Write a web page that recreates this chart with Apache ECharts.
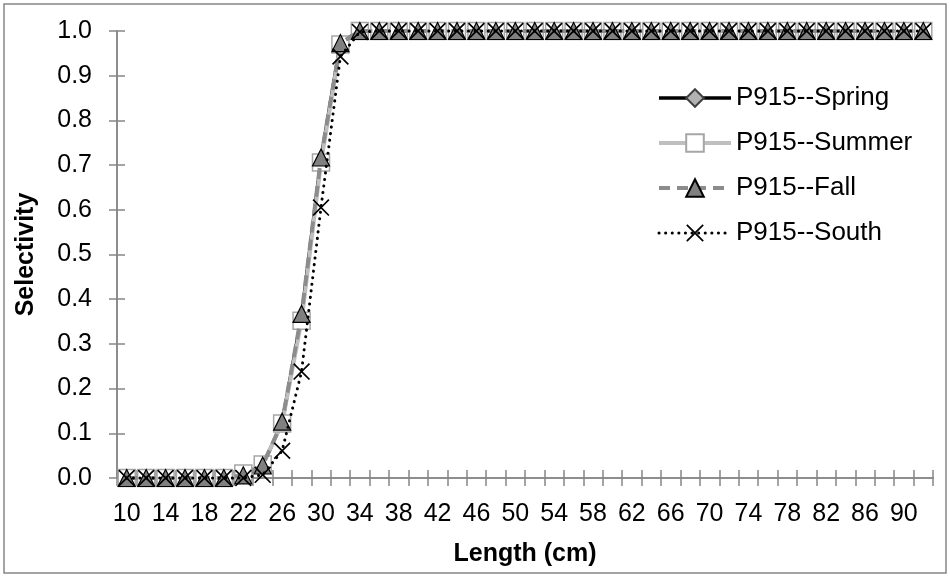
<!DOCTYPE html>
<html>
<head>
<meta charset="utf-8">
<script src="https://cdn.jsdelivr.net/npm/echarts@6/dist/echarts.min.js"></script>
<style>
  html, body { margin: 0; padding: 0; background: #fff; }
  #chart { width: 950px; height: 577px; }
</style>
</head>
<body>
<div id="chart"></div>
<script>
// Length classes (cm)
var lengths = ['10','12','14','16','18','20','22','24','26','28','30','32','34','36','38','40',
  '42','44','46','48','50','52','54','56','58','60','62','64','66','68','70','72','74','76',
  '78','80','82','84','86','88','90','92'];

// Selectivity at length for each season / region
var spring = [0,0,0,0,0,0,0.003,0.028,0.124,0.362,0.714,0.974,
  1,1,1,1,1,1,1,1,1,1,1,1,1,1,1,1,1,1,1,1,1,1,1,1,1,1,1,1,1,1];
var summer = [0,0,0,0,0,0,0.010,0.030,0.122,0.352,0.706,0.970,
  1,1,1,1,1,1,1,1,1,1,1,1,1,1,1,1,1,1,1,1,1,1,1,1,1,1,1,1,1,1];
var fall = [0,0,0,0,0,0,0.006,0.028,0.126,0.367,0.717,0.973,
  1,1,1,1,1,1,1,1,1,1,1,1,1,1,1,1,1,1,1,1,1,1,1,1,1,1,1,1,1,1];
var south = [0,0,0,0,0,0,0,0.007,0.061,0.238,0.605,0.943,
  0.998,1,1,1,1,1,1,1,1,1,1,1,1,1,1,1,1,1,1,1,1,1,1,1,1,1,1,1,1,1];

var seriesNames = ['P915--Spring', 'P915--Summer', 'P915--Fall', 'P915--South'];

var FONT = 'Liberation Sans, Arial, sans-serif';
var AXIS = '#868686';
var CROSS = 'path://M0,0.7 L0.7,0 L5,4.3 L9.3,0 L10,0.7 L5.7,5 L10,9.3 L9.3,10 L5,5.7 L0.7,10 L0,9.3 L4.3,5 Z';

// Per-series styling, shared by the plotted lines and their legend entries
var styles = [
  { symbol: 'diamond', size: [14, 14],
    item: { color: '#b2b2b2', borderColor: '#404040', borderWidth: 1 },
    line: { color: '#000', width: 3.5, type: 'solid' } },
  { symbol: 'rect', size: [17, 17],
    item: { color: '#fff', borderColor: '#a6a6a6', borderWidth: 1.5 },
    line: { color: '#bfbfbf', width: 4, type: 'solid' } },
  { symbol: 'triangle', size: [17, 17],
    item: { color: '#808080', borderColor: '#000', borderWidth: 1.2 },
    line: { color: '#8c8c8c', width: 4, type: [11, 7] } },
  { symbol: CROSS, size: [17, 17],
    item: { color: '#000' },
    line: { color: '#000', width: 3, type: [0.1, 6.5], cap: 'round' } }
];
var seriesData = [spring, summer, fall, south];

var chart = echarts.init(document.getElementById('chart'), null, { renderer: 'canvas' });

var catAxisBase = {
  type: 'category',
  data: lengths,
  boundaryGap: true,
  position: 'bottom',
  axisLine: { show: true, lineStyle: { color: AXIS, width: 1.5 } },
  splitLine: { show: false }
};
var valAxisBase = {
  type: 'value',
  min: 0, max: 1, interval: 0.1,
  position: 'left',
  axisLine: { show: true, lineStyle: { color: AXIS, width: 1.5 } },
  splitLine: { show: false }
};

var series = seriesNames.map(function (name, i) {
  var s = styles[i];
  return {
    name: name, type: 'line', data: seriesData[i], clip: false,
    showAllSymbol: true,
    symbol: s.symbol, symbolSize: s.size,
    itemStyle: s.item,
    lineStyle: s.line,
    z: 2 + i
  };
});

var legendData = seriesNames.map(function (name, i) {
  return { name: name, lineStyle: styles[i].line };
});

chart.setOption({
  animation: false,
  backgroundColor: '#fff',
  textStyle: { fontFamily: FONT },
  graphic: [{
    type: 'rect',
    shape: { x: 4, y: 4, width: 942, height: 569 },
    style: { fill: 'none', stroke: AXIS, lineWidth: 1.5 },
    silent: true, z: -10
  }],
  grid: { left: 117, right: 17, top: 31, bottom: 99, containLabel: false, outerBoundsMode: 'none' },
  xAxis: [
    Object.assign({}, catAxisBase, {
      name: 'Length (cm)',
      nameLocation: 'middle',
      nameGap: 64,
      nameTextStyle: { color: '#000', fontSize: 25, fontWeight: 'bold', fontFamily: FONT },
      axisTick: { show: true, interval: 0, alignWithLabel: false, length: 8, inside: false,
        lineStyle: { color: AXIS, width: 1.5 } },
      axisLabel: { show: true, interval: 1, color: '#000', fontSize: 25, margin: 24, fontFamily: FONT }
    }),
    Object.assign({}, catAxisBase, {
      axisTick: { show: true, interval: 0, alignWithLabel: false, length: 8, inside: true,
        lineStyle: { color: AXIS, width: 1.5 } },
      axisLabel: { show: false }
    })
  ],
  yAxis: [
    Object.assign({}, valAxisBase, {
      name: 'Selectivity',
      nameLocation: 'middle',
      nameGap: 78,
      nameTextStyle: { color: '#000', fontSize: 25, fontWeight: 'bold', fontFamily: FONT },
      axisTick: { show: true, length: 8, inside: false, lineStyle: { color: AXIS, width: 1.5 } },
      axisLabel: { color: '#000', fontSize: 25, margin: 25, fontFamily: FONT,
        formatter: function (v) { return v.toFixed(1); } }
    }),
    Object.assign({}, valAxisBase, {
      axisTick: { show: true, length: 8, inside: true, lineStyle: { color: AXIS, width: 1.5 } },
      axisLabel: { show: false }
    })
  ],
  legend: {
    orient: 'vertical',
    left: 652,
    top: 80,
    itemWidth: 72,
    itemHeight: 22,
    itemGap: 19,
    textStyle: { color: '#000', fontSize: 26, fontFamily: FONT },
    data: legendData
  },
  series: series
});
</script>
</body>
</html>
